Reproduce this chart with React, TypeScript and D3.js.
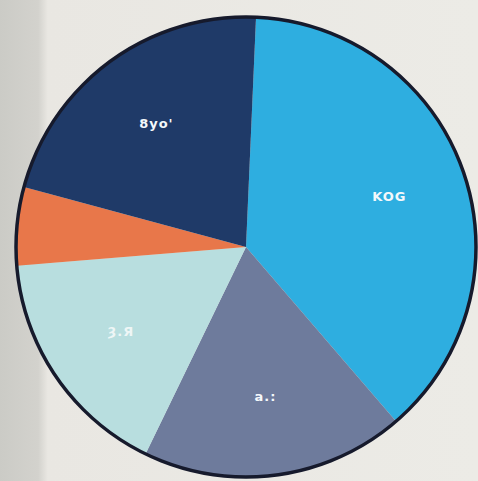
import React from "react";
import * as d3 from "d3";

const categories = ["KOG", "a.:", "Ȝ.Я", "", "8yo'"];
const values = [38, 18.5, 16.5, 5.5, 21.5];
const colors = ["#2eaee0", "#6e7b9c", "#b8dedf", "#e8774a", "#1f3a68"];

const W = 478;
const H = 481;
const cx = 246;
const cy = 247;
const R = 230;

export default function App() {
  const pie = d3
    .pie<number>()
    .sort(null)
    .value((d) => d)
    .startAngle((2.5 * Math.PI) / 180)
    .endAngle(2 * Math.PI + (2.5 * Math.PI) / 180);
  const arcs = pie(values);
  const arc = d3.arc<d3.PieArcDatum<number>>().innerRadius(0).outerRadius(R);
  const labelArc = d3
    .arc<d3.PieArcDatum<number>>()
    .innerRadius(R * 0.66)
    .outerRadius(R * 0.66);

  return (
    <svg
      width={W}
      height={H}
      style={{ position: "absolute", left: 0, top: 0 }}
    >
      <defs>
        <linearGradient id="bg" x1="0" x2="1" y1="0" y2="0">
          <stop offset="0" stopColor="#cbcbc6" />
          <stop offset="0.08" stopColor="#d3d2cd" />
          <stop offset="0.1" stopColor="#e9e7e2" />
          <stop offset="1" stopColor="#ecebe6" />
        </linearGradient>
      </defs>
      <rect width={W} height={H} fill="url(#bg)" />
      <g transform={`translate(${cx},${cy})`}>
        {arcs.map((a, i) => (
          <path key={i} d={arc(a) || ""} fill={colors[i]} />
        ))}
        <circle r={R} fill="none" stroke="#161a2c" strokeWidth={3.5} />
        {arcs.map((a, i) => {
          const [x, y] = labelArc.centroid(a);
          return categories[i] ? (
            <text
              key={"t" + i}
              x={x}
              y={y}
              textAnchor="middle"
              dominantBaseline="middle"
              fill={i === 2 ? "#eef6f6" : "#f4f8fb"}
              fontFamily="DejaVu Sans, sans-serif"
              fontWeight="bold"
              fontSize={13}
              letterSpacing={1}
            >
              {categories[i]}
            </text>
          ) : null;
        })}
      </g>
    </svg>
  );
}
